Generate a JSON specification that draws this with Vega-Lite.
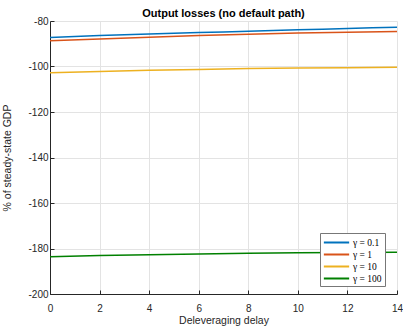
{
  "$schema": "https://vega.github.io/schema/vega-lite/v6.json",
  "width": 347,
  "height": 273,
  "autosize": {"type": "none"},
  "padding": {"left": 50, "top": 21, "right": 6, "bottom": 33},
  "background": "white",
  "title": {"text": "Output losses (no default path)", "font": "Liberation Sans", "fontSize": 11, "fontWeight": "bold", "color": "#000000", "offset": -3},
  "config": {
    "view": {"stroke": null},
    "axis": {"labelFont": "Liberation Sans", "titleFont": "Liberation Sans", "labelFontSize": 10, "titleFontSize": 10.5, "labelColor": "#262626", "titleColor": "#262626", "titleFontWeight": "normal", "gridColor": "#e3e3e3", "gridWidth": 1, "domainColor": "#262626", "tickColor": "#262626", "tickSize": -4, "domainWidth": 1}
  },
  "data": {"values": [
    {"x": 0, "y": -87.2, "g": "γ = 0.1"}, {"x": 1, "y": -86.8, "g": "γ = 0.1"}, {"x": 2, "y": -86.4, "g": "γ = 0.1"}, {"x": 3, "y": -86.0, "g": "γ = 0.1"}, {"x": 4, "y": -85.7, "g": "γ = 0.1"}, {"x": 5, "y": -85.4, "g": "γ = 0.1"}, {"x": 6, "y": -85.1, "g": "γ = 0.1"}, {"x": 7, "y": -84.8, "g": "γ = 0.1"}, {"x": 8, "y": -84.5, "g": "γ = 0.1"}, {"x": 9, "y": -84.2, "g": "γ = 0.1"}, {"x": 10, "y": -83.9, "g": "γ = 0.1"}, {"x": 11, "y": -83.6, "g": "γ = 0.1"}, {"x": 12, "y": -83.3, "g": "γ = 0.1"}, {"x": 13, "y": -83.0, "g": "γ = 0.1"}, {"x": 14, "y": -82.8, "g": "γ = 0.1"},
    {"x": 0, "y": -88.7, "g": "γ = 1"}, {"x": 2, "y": -87.9, "g": "γ = 1"}, {"x": 4, "y": -87.1, "g": "γ = 1"}, {"x": 6, "y": -86.4, "g": "γ = 1"}, {"x": 8, "y": -85.8, "g": "γ = 1"}, {"x": 10, "y": -85.3, "g": "γ = 1"}, {"x": 12, "y": -84.9, "g": "γ = 1"}, {"x": 14, "y": -84.6, "g": "γ = 1"},
    {"x": 0, "y": -102.8, "g": "γ = 10"}, {"x": 2, "y": -102.2, "g": "γ = 10"}, {"x": 4, "y": -101.7, "g": "γ = 10"}, {"x": 6, "y": -101.3, "g": "γ = 10"}, {"x": 8, "y": -100.9, "g": "γ = 10"}, {"x": 10, "y": -100.7, "g": "γ = 10"}, {"x": 12, "y": -100.5, "g": "γ = 10"}, {"x": 14, "y": -100.3, "g": "γ = 10"},
    {"x": 0, "y": -183.6, "g": "γ = 100"}, {"x": 2, "y": -183.1, "g": "γ = 100"}, {"x": 4, "y": -182.7, "g": "γ = 100"}, {"x": 6, "y": -182.4, "g": "γ = 100"}, {"x": 8, "y": -182.1, "g": "γ = 100"}, {"x": 10, "y": -181.9, "g": "γ = 100"}, {"x": 12, "y": -181.8, "g": "γ = 100"}, {"x": 14, "y": -181.7, "g": "γ = 100"}
  ]},
  "mark": {"type": "line", "strokeWidth": 1.5},
  "encoding": {
    "x": {"field": "x", "type": "quantitative", "scale": {"domain": [0, 14], "nice": false}, "axis": {"title": "Deleveraging delay", "values": [0, 2, 4, 6, 8, 10, 12, 14], "labelPadding": 13, "titleY": 21, "labelFlush": false}},
    "y": {"field": "y", "type": "quantitative", "scale": {"domain": [-200, -80], "nice": false, "zero": false}, "axis": {"title": "% of steady-state GDP", "values": [-200, -180, -160, -140, -120, -100, -80], "labelExpr": "'' + datum.value", "labelPadding": 6, "titleX": -38}},
    "color": {"field": "g", "type": "nominal", "sort": ["γ = 0.1", "γ = 1", "γ = 10", "γ = 100"], "scale": {"domain": ["γ = 0.1", "γ = 1", "γ = 10", "γ = 100"], "range": ["#0072BD", "#D95319", "#EDB120", "#008000"]},
      "legend": {"title": null, "orient": "none", "legendX": 270, "legendY": 212, "symbolType": "M-2.3,0H2.3", "symbolSize": 121, "symbolOffset": 7, "symbolStrokeWidth": 2, "labelFont": "Liberation Serif", "labelFontSize": 9.5, "labelColor": "#000000", "fillColor": "white", "strokeColor": "#777777", "padding": 3, "rowPadding": 1, "labelOffset": 10}}
  }
}
